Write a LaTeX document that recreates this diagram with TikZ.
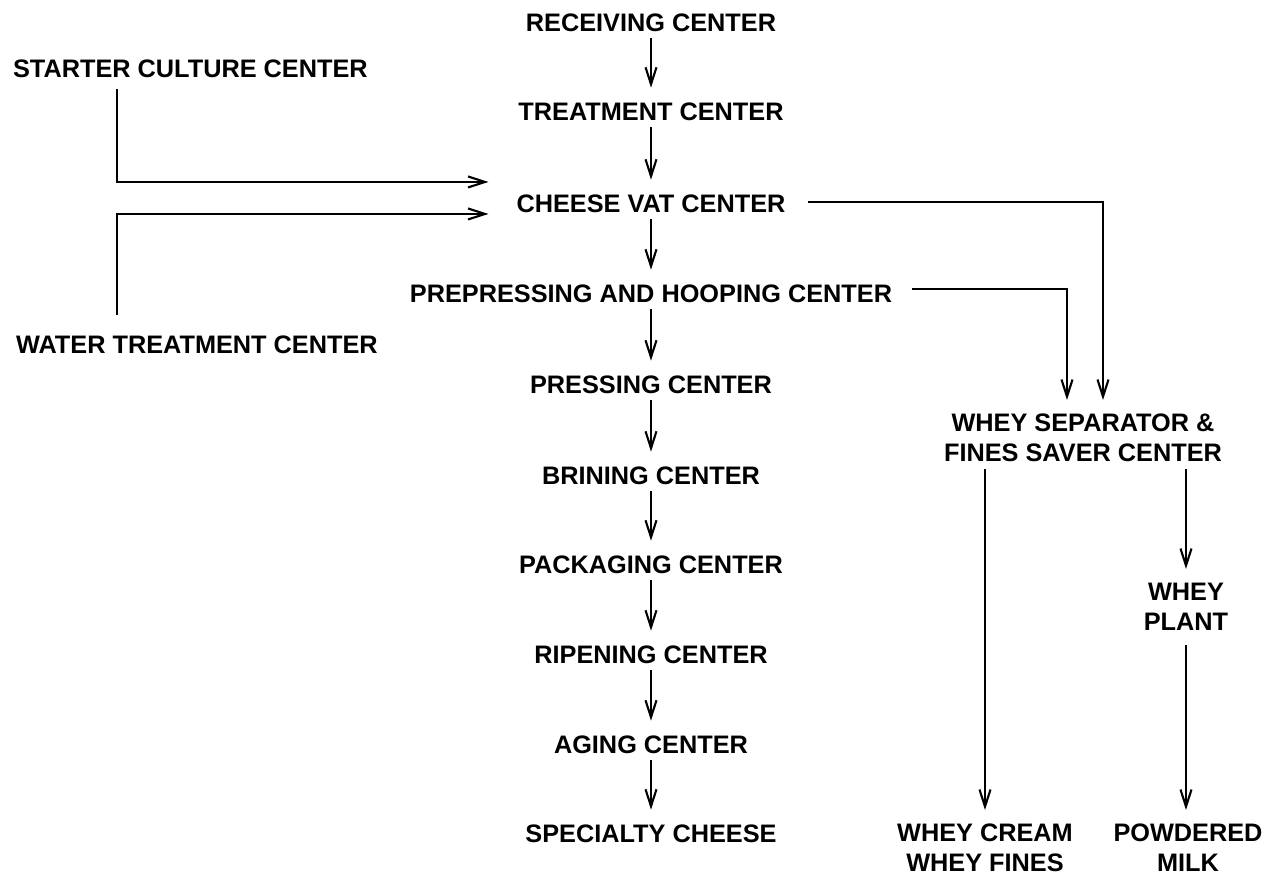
\documentclass[tikz,border=0pt]{standalone}
\usepackage{fontspec}
\setmainfont{Liberation Sans}
\usepackage{tikz}
\usetikzlibrary{arrows.meta, calc}

\begin{document}
\begin{tikzpicture}[x=0.02cm, y=-0.02cm, >={Straight Barb[length=3.4mm,width=2.2mm]}, line width=1.2pt,
    every node/.style={font=\fontsize{14.4}{17}\selectfont\bfseries, inner xsep=0pt, inner ysep=3.5pt},
    stage/.style={anchor=base, text height=10.3pt, text depth=0pt},
    source/.style={anchor=base west, text height=10.3pt, text depth=0pt},
    product/.style={anchor=north, align=center},
    flow/.style={->, shorten >=4pt}]
      \useasboundingbox (0,0) rectangle (1276,877);

      \node[stage] (recv) at (651,31) {RECEIVING CENTER};
      \node[stage] (treat) at (651,120) {TREATMENT CENTER};
      \node[stage] (vat) at (651,212) {CHEESE VAT CENTER};
      \node[stage] (hoop) at (651,302) {PREPRESSING AND HOOPING CENTER};
      \node[stage] (press) at (651,393) {PRESSING CENTER};
      \node[stage] (brine) at (651,484) {BRINING CENTER};
      \node[stage] (pack) at (651,573) {PACKAGING CENTER};
      \node[stage] (ripen) at (651,663) {RIPENING CENTER};
      \node[stage] (aging) at (651,753) {AGING CENTER};
      \node[stage] (special) at (651,842) {SPECIALTY CHEESE};

      \node[source] (starter) at (12,77) {STARTER CULTURE CENTER};
      \node[source] (water) at (15,353) {WATER TREATMENT CENTER};

      \node[product] (whey) at (1083,407) {WHEY SEPARATOR \&\\FINES SAVER CENTER};
      \node[product] (plant) at (1186,576) {WHEY\\PLANT};
      \node[product] (cream) at (985,817) {WHEY CREAM\\WHEY FINES};
      \node[product] (powder) at (1188,817) {POWDERED\\MILK};

      \draw[flow] (recv) edge (treat) (treat) edge (vat) (vat) edge (hoop)
      (hoop) edge (press) (press) edge (brine) (brine) edge (pack)
      (pack) edge (ripen) (ripen) edge (aging) (aging) edge (special);

      \draw[->] ($(starter.south west)+(105,5)$) |- ($(vat.west)+(-27,-21)$);
      \draw[->] ($(water.north west)+(102,-13)$) |- ($(vat.west)+(-27,11)$);

      \draw[flow] ($(vat.east)+(21,-1)$) -| ($(whey.north)+(20,0)$);
      \draw[flow] ($(hoop.east)+(19,-4)$) -| ($(whey.north)+(-16,0)$);

      \draw[flow] (whey.south -| cream.north) -- (cream.north);
      \draw[flow] (whey.south -| plant.north) -- (plant.north);
      \draw[flow, shorten <=4pt] (plant.south) -- (plant.south |- powder.north);
  \end{tikzpicture}
\end{document}
